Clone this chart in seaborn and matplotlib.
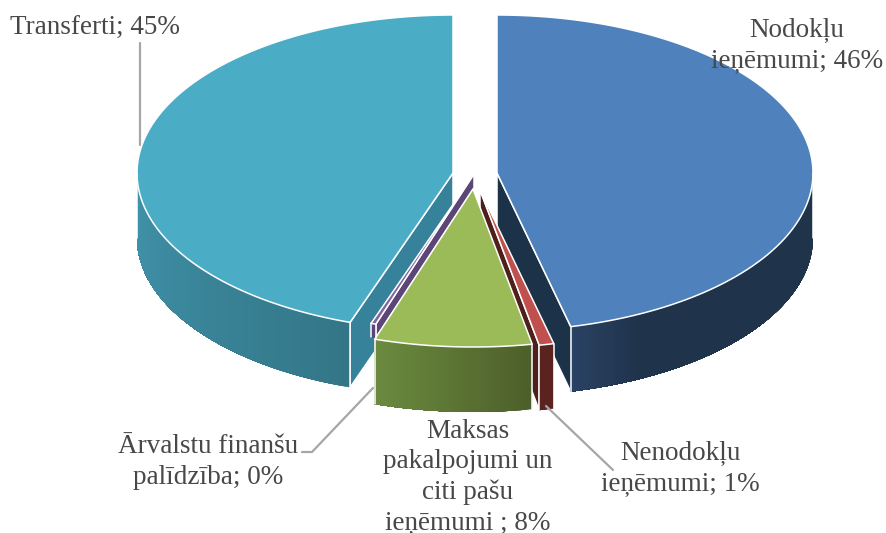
import numpy as np
import matplotlib
matplotlib.use('Agg')
import matplotlib.pyplot as plt
import seaborn as sns

# shares of each slice (%)
categories = ['Nodokļu ieņēmumi', 'Nenodokļu ieņēmumi', 'Maksas pakalpojumi', 'Ārvalstu finanšu palīdzība', 'Transferti']
shares = [46.25, 0.75, 8.03, 0.25, 44.72]

# layout in pixels, separate from the data
apex_x = [497, 480, 473, 474, 453]
apex_y = [173, 190, 189, 174, 173]
depths = [65, 65, 65, 14, 65]  # the purple sliver only shows at its upper end
rx, ry = 316, 158

sns.set_theme(style='white')
plt.rcParams['font.family'] = ['Liberation Serif', 'DejaVu Serif']

top_colors = sns.color_palette(['#4F81BD', '#C0504D', '#9BBB59', '#8064A2', '#4BACC6'])
rim_colors = [['#1f334a'] * 6 + ['#2a4263'], ['#5a2320', '#5a2320'], ['#4d5f2a', '#6b8a3f'],
              ['#5c4678', '#5c4678'], ['#347688', '#4094ab']]
wall_colors = ['#1c3249', '#4f1f1c', '#4a5c28', '#5c4678', '#35829a']
draw_order = [4, 0, 1, 3, 2]

fig, ax = plt.subplots(figsize=(8.87, 5.33), dpi=100)
ax.set_position([0, 0, 1, 1])
ax.set_xlim(0, 887)
ax.set_ylim(533, 0)
ax.axis('off')


def rim_xy(i, deg):
    t = np.radians(deg)
    return apex_x[i] + rx * np.sin(t), apex_y[i] - ry * np.cos(t)


def wall(i, deg):
    x, y = rim_xy(i, deg)
    xs = [apex_x[i], x, x, apex_x[i]]
    ys = [apex_y[i], y, y + depths[i], apex_y[i] + depths[i]]
    ax.fill(xs, ys, facecolor=wall_colors[i], edgecolor='white', lw=1.1, joinstyle='round')


edges = np.concatenate([[0], np.cumsum(shares) * 3.6])
for i in draw_order:
    a0, a1 = edges[i], edges[i + 1]
    depth = depths[i]
    # radial walls that face the viewer
    if 180 < a0 < 360:
        wall(i, a0)
    if 0 < a1 < 180:
        wall(i, a1)
    # front rim with a left to right gradient, each strip overlaps the next
    lo, hi = max(a0, 90), min(a1, 270)
    if hi > lo:
        n = max(int((hi - lo) * 1.5), 2)
        angs = np.linspace(lo, hi, n + 1)
        pal = sns.blend_palette(rim_colors[i], n)
        for k in range(n):
            part = np.linspace(angs[k], hi, n - k + 1)
            xr = [rim_xy(i, a)[0] for a in part]
            yr = [rim_xy(i, a)[1] for a in part]
            ax.fill(xr + xr[::-1], yr + [y + depth for y in yr[::-1]],
                    facecolor=pal[k], edgecolor='none')
        xr = [rim_xy(i, a)[0] for a in angs]
        yr = [rim_xy(i, a)[1] for a in angs]
        ax.plot([xr[0], xr[0]], [yr[0], yr[0] + depth], color='white', lw=1.1)
        ax.plot([xr[-1], xr[-1]], [yr[-1], yr[-1] + depth], color='white', lw=1.1)
    # top face
    angs = np.linspace(a0, a1, max(int(a1 - a0), 2) + 1)
    xs = [apex_x[i]] + [rim_xy(i, a)[0] for a in angs]
    ys = [apex_y[i]] + [rim_xy(i, a)[1] for a in angs]
    ax.fill(xs, ys, facecolor=top_colors[i], edgecolor='white', lw=1.1, joinstyle='round')

# leader lines
line_color = '#A6A6A6'
ax.plot([140, 140], [43, 145], color=line_color, lw=1.6)
ax.plot([302, 312, 373], [452, 452, 388], color=line_color, lw=1.6)
ax.plot([546, 613], [406, 470], color=line_color, lw=1.6)

# data labels
text_color = '#484848'
label_kw = dict(ha='center', va='center', color=text_color, fontsize=19.5, linespacing=1.3)
ax.text(95, 28, 'Transferti; 45%', **label_kw)
ax.text(797, 45, 'Nodokļu\nieņēmumi; 46%', **label_kw)
ax.text(208, 462, 'Ārvalstu finanšu\npalīdzība; 0%', **label_kw)
ax.text(468, 477, 'Maksas\npakalpojumi un\nciti pašu\nieņēmumi ; 8%', color=text_color,
        ha='center', va='center', fontsize=19.5, linespacing=1.26)
ax.text(680, 468, 'Nenodokļu\nieņēmumi; 1%', **label_kw)

fig.savefig('out.png', dpi=100)
